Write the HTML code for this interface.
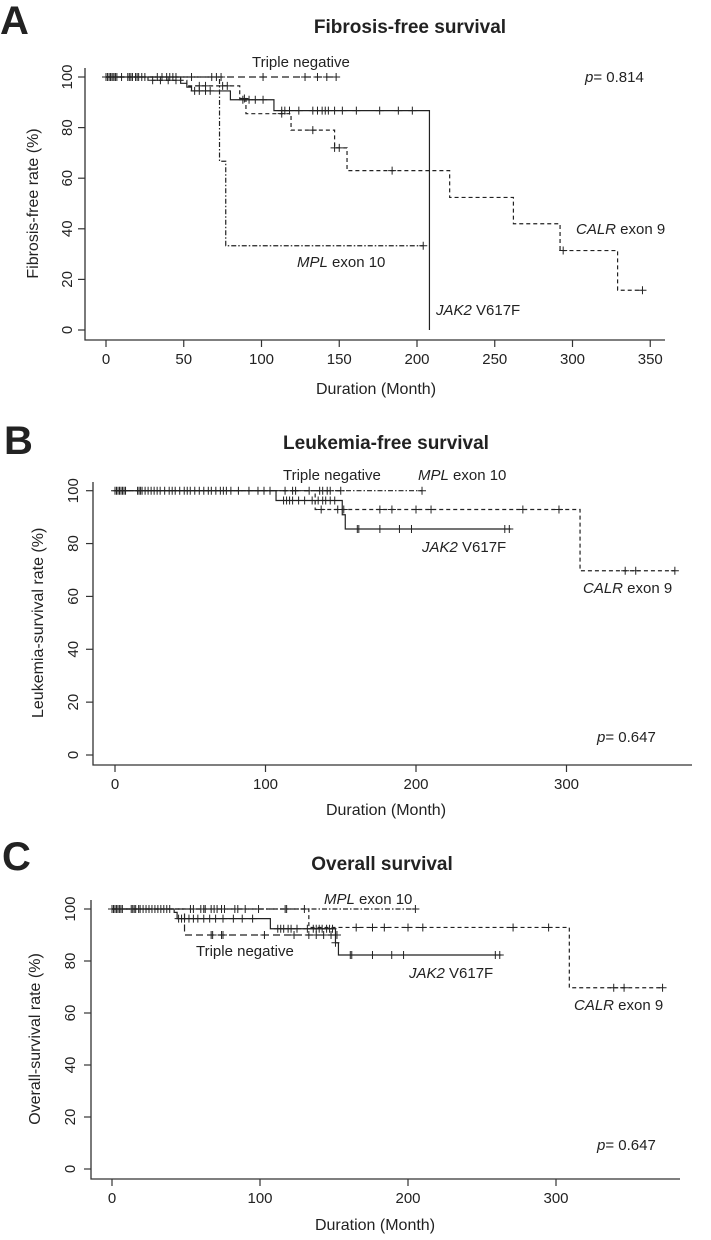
<!DOCTYPE html>
<html><head><meta charset="utf-8">
<style>
html,body{margin:0;padding:0;background:#fff;}
svg{display:block;font-family:"Liberation Sans",sans-serif;}
text{fill:#222;}
</style></head>
<body>
<svg id="fig" width="711" height="1240" viewBox="0 0 711 1240" xmlns="http://www.w3.org/2000/svg">
<text x="0" y="34" font-size="40" font-weight="bold">A</text>
<text x="410" y="33" font-size="19" font-weight="bold" text-anchor="middle">Fibrosis-free survival</text>
<text x="4" y="454" font-size="40" font-weight="bold">B</text>
<text x="386" y="449" font-size="19" font-weight="bold" text-anchor="middle">Leukemia-free survival</text>
<text x="2" y="870" font-size="40" font-weight="bold">C</text>
<text x="382" y="870" font-size="19" font-weight="bold" text-anchor="middle">Overall survival</text>
</svg>
<script>
// ---- Panel A data ----
const aXTicks = [0,50,100,150,200,250,300,350];
const aYTicks = [0,20,40,60,80,100];
const aJakSteps = [48,52,55,80,108,208];
const aJakSurv = [97.5,96,94.5,91,86.7,0];
const aJakEnd = 208;
const aJakCens = [1,2,3,4,5,6,7,14,15,16,17,19,21,23,25,33,36,39,41,43,45,57,60,64,67,88,92,96,101,113,115,118,124,133,136,139,141,143,147,152,161,176,188,197];
const aCalSteps = [27,52,86,90,119,147,155,221,262,292,329];
const aCalSurv = [98.7,96.5,91.5,85.5,79,72,63,52.4,42,31.4,15.7];
const aCalEnd = 345;
const aCalCens = [30,35,40,45,60,64,75,78,89,113,133,147,150,184,294,345];
const aMplSteps = [73,77];
const aMplSurv = [66.7,33.3];
const aMplEnd = 204;
const aMplCens = [204];
const aTnSteps = [];
const aTnSurv = [];
const aTnEnd = 148;
const aTnCens = [0,3,6,10,20,55,68,71,74,101,128,136,142,148];
// ---- Panel B data ----
const bXTicks = [0,100,200,300];
const bYTicks = [0,20,40,60,80,100];
const bJakSteps = [107,151,153];
const bJakSurv = [96.3,90.9,85.5];
const bJakEnd = 263;
const bJakCens = [0,1,2,3,4,5,6,7,15,16,17,18,20,22,24,26,28,30,33,36,38,40,43,46,48,50,53,56,59,62,64,67,70,72,74,112,114,116,118,122,126,131,135,138,140,143,146,161,162,176,189,197,259,262];
const bCalSteps = [133,309];
const bCalSurv = [92.9,69.7];
const bCalEnd = 372;
const bCalCens = [137,148,152,176,184,200,210,271,295,339,346,372];
const bMplSteps = [];
const bMplSurv = [];
const bMplEnd = 204;
const bMplCens = [120,138,141,204];
const bTnSteps = [];
const bTnSurv = [];
const bTnEnd = 150;
const bTnCens = [77,82,89,95,99,103,113,118,129,136,143,150];
// ---- Panel C data ----
const cXTicks = [0,100,200,300];
const cYTicks = [0,20,40,60,80,100];
const cJakSteps = [42,44,107,151,153];
const cJakSurv = [98.7,96.3,92.4,87,82.3];
const cJakEnd = 263;
const cJakCens = [0,1,2,3,4,5,6,7,13,14,15,16,18,19,21,23,25,27,29,31,33,35,37,39,45,47,49,52,55,58,62,66,70,75,82,88,95,112,114,116,119,121,125,132,136,138,140,142,145,147,149,151,161,162,176,189,197,259,262];
const cCalSteps = [133,309];
const cCalSurv = [92.9,69.7];
const cCalEnd = 372;
const cCalCens = [165,176,184,200,210,271,295,339,346,372];
const cMplSteps = [];
const cMplSurv = [];
const cMplEnd = 205;
const cMplCens = [53,55,60,62,63,67,69,71,74,76,83,85,90,99,117,118,130,205];
const cTnSteps = [49];
const cTnSurv = [90];
const cTnEnd = 152;
const cTnCens = [67,68,74,75,103,123,133,138,143,148,152];

const NS = "http://www.w3.org/2000/svg";
const fig = document.getElementById('fig');
function mk(tag, attrs){const e=document.createElementNS(NS,tag);for(const k in attrs)e.setAttribute(k,attrs[k]);return e;}

function survAt(steps, surv, t){let s=100;for(let i=0;i<steps.length;i++){if(steps[i]<=t)s=surv[i];}return s;}

function drawPanel(p){
  const g = mk('g',{});
  
  
  fig.appendChild(g);
  const X = v => p.x0 + v*p.kx;
  const Y = v => p.y0 - v*p.ky;
  // axes L-frame
  const ax = mk('path',{d:`M${p.axX},${p.axTop} V${p.axBot} H${p.axRight}`,fill:'none',stroke:'#333','stroke-width':1.3});
  
  
  g.appendChild(ax);
  p.yTicks.forEach(v=>{
    const t = mk('line',{x1:p.axX-7,x2:p.axX,y1:Y(v),y2:Y(v),stroke:'#333','stroke-width':1.2});
    
    
    g.appendChild(t);
    const tx = mk('text',{x:p.yLabX,y:Y(v),'font-size':15,'text-anchor':'middle',transform:`rotate(-90 ${p.yLabX} ${Y(v)})`});
    tx.textContent = v;
    
    
    g.appendChild(tx);
  });
  p.xTicks.forEach(v=>{
    const t = mk('line',{x1:X(v),x2:X(v),y1:p.axBot,y2:p.axBot+7,stroke:'#333','stroke-width':1.2});
    
    
    g.appendChild(t);
    const tx = mk('text',{x:X(v),y:p.xLabY,'font-size':15,'text-anchor':'middle'});
    tx.textContent = v;
    
    
    g.appendChild(tx);
  });
  const yt = mk('text',{x:p.yTitleX,y:(Y(0)+Y(100))/2,'font-size':16,'text-anchor':'middle',transform:`rotate(-90 ${p.yTitleX} ${(Y(0)+Y(100))/2})`});
  yt.textContent = p.yTitle;
  
  
  g.appendChild(yt);
  const xt = mk('text',{x:p.xTitleX,y:p.xTitleY,'font-size':16,'text-anchor':'middle'});
  xt.textContent = 'Duration (Month)';
  
  
  g.appendChild(xt);
  // series
  p.series.forEach(s=>{
    let d = `M${X(0)},${Y(100)}`; let cur=100;
    for(let i=0;i<s.steps.length;i++){
      const tt=Math.min(s.steps[i],s.end);
      d += ` H${X(tt)} V${Y(s.surv[i])}`; cur=s.surv[i];
    }
    d += ` H${X(s.end)}`;
    const path = mk('path',{d:d,fill:'none',stroke:'#222','stroke-width':1.2});
    if(s.dash) path.setAttribute('stroke-dasharray', s.dash);
    
    
    g.appendChild(path);
    s.cens.forEach(c=>{
      const cy = Y(survAt(s.steps,s.surv,c)); const cx = X(c);
      const m = mk('path',{d:`M${cx-4},${cy} H${cx+4} M${cx},${cy-4} V${cy+4}`,stroke:'#222','stroke-width':1});
      
      
      g.appendChild(m);
    });
  });
  // labels
  p.labels.forEach(l=>{
    const t = mk('text',{x:l.x,y:l.y,'font-size':15});
    t.innerHTML = l.html;
    
    
    g.appendChild(t);
  });
}

const DASH_TN = '7,4', DASH_CAL = '4,3', DASH_MPL = '5,2,1.5,2';
drawPanel({name:'fibrosis-free', x0:106, kx:1.555, y0:330, ky:2.53, axX:85, axTop:68, axBot:340, axRight:665,
  xTicks:aXTicks, yTicks:aYTicks, yLabX:72, xLabY:364, yTitle:'Fibrosis-free rate (%)', yTitleX:38, xTitleX:376, xTitleY:394,
  series:[
    {id:'triple-negative', steps:aTnSteps, surv:aTnSurv, end:aTnEnd, cens:aTnCens, dash:DASH_TN},
    {id:'mpl', steps:aMplSteps, surv:aMplSurv, end:aMplEnd, cens:aMplCens, dash:DASH_MPL},
    {id:'calr', steps:aCalSteps, surv:aCalSurv, end:aCalEnd, cens:aCalCens, dash:DASH_CAL},
    {id:'jak2', steps:aJakSteps, surv:aJakSurv, end:aJakEnd, cens:aJakCens, dash:null}],
  labels:[
    {name:'label-triple-negative', x:252, y:67, html:'Triple negative'},
    {name:'p-value', x:585, y:82, html:'<tspan font-style="italic">p</tspan>= 0.814'},
    {name:'label-calr', x:576, y:234, html:'<tspan font-style="italic">CALR</tspan> exon 9'},
    {name:'label-mpl', x:297, y:267, html:'<tspan font-style="italic">MPL</tspan> exon 10'},
    {name:'label-jak2', x:436, y:315, html:'<tspan font-style="italic">JAK2</tspan> V617F'}]});

drawPanel({name:'leukemia-free', x0:115, kx:1.505, y0:755, ky:2.643, axX:93, axTop:482, axBot:765, axRight:692,
  xTicks:bXTicks, yTicks:bYTicks, yLabX:78, xLabY:789, yTitle:'Leukemia-survival rate (%)', yTitleX:43, xTitleX:386, xTitleY:815,
  series:[
    {id:'triple-negative', steps:bTnSteps, surv:bTnSurv, end:bTnEnd, cens:bTnCens, dash:DASH_TN},
    {id:'mpl', steps:bMplSteps, surv:bMplSurv, end:bMplEnd, cens:bMplCens, dash:DASH_MPL},
    {id:'calr', steps:bCalSteps, surv:bCalSurv, end:bCalEnd, cens:bCalCens, dash:DASH_CAL},
    {id:'jak2', steps:bJakSteps, surv:bJakSurv, end:bJakEnd, cens:bJakCens, dash:null}],
  labels:[
    {name:'label-triple-negative', x:283, y:480, html:'Triple negative'},
    {name:'label-mpl', x:418, y:480, html:'<tspan font-style="italic">MPL</tspan> exon 10'},
    {name:'label-jak2', x:422, y:552, html:'<tspan font-style="italic">JAK2</tspan> V617F'},
    {name:'label-calr', x:583, y:593, html:'<tspan font-style="italic">CALR</tspan> exon 9'},
    {name:'p-value', x:597, y:742, html:'<tspan font-style="italic">p</tspan>= 0.647'}]});

drawPanel({name:'overall', x0:112, kx:1.48, y0:1169, ky:2.6, axX:91, axTop:900, axBot:1179, axRight:680,
  xTicks:cXTicks, yTicks:cYTicks, yLabX:75, xLabY:1203, yTitle:'Overall-survival rate (%)', yTitleX:40, xTitleX:375, xTitleY:1230,
  series:[
    {id:'triple-negative', steps:cTnSteps, surv:cTnSurv, end:cTnEnd, cens:cTnCens, dash:DASH_TN},
    {id:'mpl', steps:cMplSteps, surv:cMplSurv, end:cMplEnd, cens:cMplCens, dash:DASH_MPL},
    {id:'calr', steps:cCalSteps, surv:cCalSurv, end:cCalEnd, cens:cCalCens, dash:DASH_CAL},
    {id:'jak2', steps:cJakSteps, surv:cJakSurv, end:cJakEnd, cens:cJakCens, dash:null}],
  labels:[
    {name:'label-mpl', x:324, y:904, html:'<tspan font-style="italic">MPL</tspan> exon 10'},
    {name:'label-triple-negative', x:196, y:956, html:'Triple negative'},
    {name:'label-jak2', x:409, y:978, html:'<tspan font-style="italic">JAK2</tspan> V617F'},
    {name:'label-calr', x:574, y:1010, html:'<tspan font-style="italic">CALR</tspan> exon 9'},
    {name:'p-value', x:597, y:1150, html:'<tspan font-style="italic">p</tspan>= 0.647'}]});
</script>
</body></html>
